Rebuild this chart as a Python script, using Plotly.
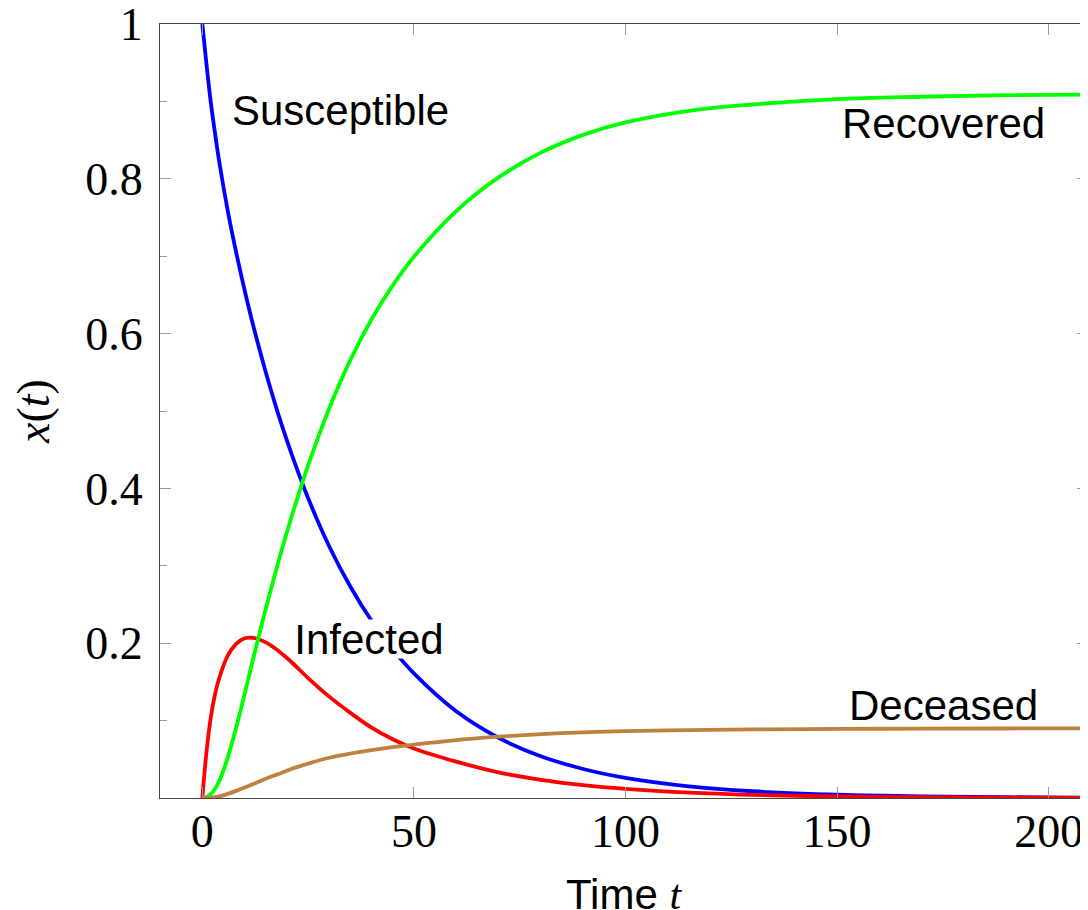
import plotly.graph_objects as go

# time grid (days)
t = [0, 1, 2, 3, 4, 6, 8, 10, 12, 15, 18, 21, 25, 30, 35, 40, 45, 50, 60, 70, 80, 90, 100,
     115, 130, 150, 170, 190, 210]

susceptible = [1.0, 0.947, 0.899, 0.859, 0.822, 0.759, 0.705, 0.656, 0.611, 0.550, 0.495, 0.446,
               0.3875, 0.325, 0.273, 0.229, 0.192, 0.161, 0.112, 0.0778, 0.054, 0.0375, 0.026,
               0.015, 0.0087, 0.0042, 0.002, 0.001, 0.0005]

infected = [0.0, 0.060, 0.104, 0.134, 0.155, 0.184, 0.199, 0.2063, 0.207, 0.201, 0.190, 0.176,
            0.155, 0.131, 0.110, 0.091, 0.076, 0.064, 0.047, 0.0332, 0.0234, 0.0165, 0.0117,
            0.0069, 0.0041, 0.0020, 0.0010, 0.0005, 0.00025]

recovered = [0.0, 0.0012, 0.005, 0.012, 0.022, 0.052, 0.091, 0.1345, 0.1795, 0.2448, 0.3056,
             0.3618, 0.4298, 0.5036, 0.5661, 0.6186, 0.6623, 0.6993, 0.7583, 0.8018, 0.8338,
             0.8568, 0.8728, 0.8878, 0.896, 0.903, 0.906, 0.908, 0.909]

deceased = [0.0, 0.0001, 0.0005, 0.0011, 0.002, 0.0053, 0.0092, 0.0136, 0.018, 0.025, 0.031,
            0.0375, 0.0445, 0.052, 0.0575, 0.062, 0.0658, 0.069, 0.0748, 0.0792, 0.0825,
            0.0848, 0.0864, 0.0878, 0.0886, 0.0893, 0.0896, 0.0898, 0.090]

series_names = ["Susceptible", "Infected", "Recovered", "Deceased"]
series_colors = ["#0000FF", "#FF0000", "#00FF00", "#BF8040"]

x_ticks = [0, 50, 100, 150, 200]
y_ticks = [0.2, 0.4, 0.6, 0.8, 1.0]
y_tick_text = ["0.2", "0.4", "0.6", "0.8", "1"]

# label positions (data coords)
label_t = [32.7, 39.3, 175.2, 175.1]
label_v = [0.888, 0.206, 0.871, 0.119]
label_masks = [False, True, False, False]

SANS = "Liberation Sans, Arial, sans-serif"
SERIF = "Liberation Serif, Times New Roman, serif"

fig = go.Figure()
for name, vals, col in zip(series_names, [susceptible, infected, recovered, deceased], series_colors):
    fig.add_trace(go.Scatter(x=t, y=vals, mode="lines", name=name,
                             line=dict(color=col, width=3.8, shape="spline", smoothing=1.0),
                             showlegend=False))

# invisible trace for the mirrored (top/right) tick axes
fig.add_trace(go.Scatter(x=[None], y=[None], xaxis="x2", yaxis="y2", showlegend=False,
                         hoverinfo="skip"))

for name, lt, lv, mask in zip(series_names, label_t, label_v, label_masks):
    extra = dict(bgcolor="white", width=148, height=38) if mask else {}
    fig.add_annotation(x=lt, y=lv, xref="x", yref="y", text=name, showarrow=False,
                       font=dict(family=SANS, size=42, color="black"),
                       borderpad=0, xanchor="center", yanchor="middle", **extra)

XR = [-10, 209.3]

# x-axis title
fig.add_annotation(x=(XR[0] + XR[1]) / 2, y=0, xref="x", yref="paper", yshift=-96,
                   text="Time <span style='font-family:Liberation Serif'><i>t</i></span>",
                   showarrow=False, font=dict(family=SANS, size=42, color="black"),
                   xanchor="center", yanchor="middle")

common_axis = dict(showgrid=False, zeroline=False, ticks="inside", ticklen=11,
                   tickwidth=1, tickcolor="#999999", automargin=False)

fig.update_layout(
    width=1080, height=902,
    margin=dict(l=152, r=0, t=16, b=112, autoexpand=False),
    plot_bgcolor="white", paper_bgcolor="white",
    showlegend=False,
    xaxis=dict(range=XR, tickmode="array", tickvals=x_ticks,
               showline=True, linecolor="#444444", linewidth=1,
               tickfont=dict(family=SERIF, size=46, color="black"),
               ticklabelstandoff=-7,
               **common_axis),
    xaxis2=dict(range=XR, overlaying="x", side="top", anchor="y2", tickmode="array",
                tickvals=x_ticks, showticklabels=False,
                showline=True, linecolor="#444444", linewidth=1, **common_axis),
    yaxis=dict(range=[0, 1], tickmode="array", tickvals=y_ticks, ticktext=y_tick_text,
               showline=True, linecolor="#444444", linewidth=1,
               tickfont=dict(family=SERIF, size=46, color="black"),
               ticklabelstandoff=7, ticklabeloverflow="allow",
               minor=dict(tickmode="linear", tick0=0, dtick=0.1, ticks="inside",
                          ticklen=7, tickcolor="#999999", tickwidth=1),
               title=dict(text="<i>x</i>(<i>t</i>)", font=dict(family=SERIF, size=46, color="black"),
                          standoff=22),
               **common_axis),
    yaxis2=dict(range=[0, 1], overlaying="y", side="right", anchor="x2", tickmode="array",
                tickvals=y_ticks, showticklabels=False, showline=False,
                minor=dict(tickmode="linear", tick0=0, dtick=0.1, ticks="inside",
                           ticklen=7, tickcolor="#999999", tickwidth=1),
                **common_axis),
)

fig.write_html("out.html")
